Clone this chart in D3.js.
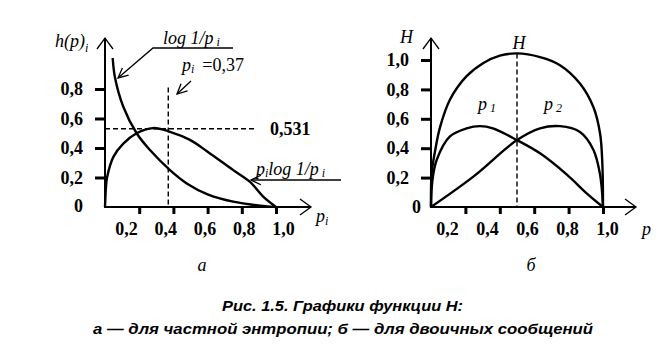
<!DOCTYPE html>
<meta charset="utf-8">
<style>
  body { margin: 0; background: #fff; }
  svg { display: block; background: #fff; }
  .curve { fill: none; stroke: #000; stroke-width: 2.4; }
  .dash { fill: none; stroke: #000; stroke-width: 1.4; stroke-dasharray: 5 3; }
  .ax { fill: none; stroke: #000; stroke-width: 2; }
  .lead { fill: none; stroke: #000; stroke-width: 1.3; }
  .tick line { stroke: #000; stroke-width: 3; }
  .tick text, .num { font-family: "Liberation Serif", "Times New Roman", "DejaVu Serif", serif; font-weight: bold; font-size: 18px; fill: #000; }
  .it { font-family: "Liberation Serif", "Times New Roman", "DejaVu Serif", serif; font-style: italic; font-size: 18px; }
  .cap { font-family: "Liberation Sans", Arial, sans-serif; font-style: italic; font-weight: bold; font-size: 14px; }
</style>
<body></body>
<script src="https://cdn.jsdelivr.net/npm/d3@7"></script>
<script>
  // ticks
  const xTicks = [0.2, 0.4, 0.6, 0.8, 1.0];
  const yTicksL = [0.2, 0.4, 0.6, 0.8];
  const yTicksR = [0.2, 0.4, 0.6, 0.8, 1.0];

  // panel a: log 1/p_i and p_i log 1/p_i
  const logInv = [[0.045, 1.01], [0.058, 0.88], [0.107, 0.68], [0.185, 0.50], [0.263, 0.386],
    [0.38, 0.25], [0.478, 0.16], [0.60, 0.086], [0.75, 0.036], [0.906, 0.009], [1.0, 0]];
  const pLog = [[0, 0], [0.006, 0.14], [0.012, 0.2], [0.049, 0.34], [0.107, 0.43], [0.185, 0.50],
    [0.28, 0.535], [0.38, 0.51], [0.497, 0.455], [0.60, 0.375], [0.75, 0.25], [0.848, 0.17],
    [0.925, 0.07], [1.0, 0]];
  const pMax = 0.37, hMax = 0.531;

  // panel б: H, p1, p2
  const H = [[0, 0], [0.004, 0.23], [0.025, 0.39], [0.053, 0.545], [0.11, 0.73], [0.207, 0.89],
    [0.305, 0.98], [0.40, 1.03], [0.5, 1.045], [0.634, 1.02], [0.75, 0.965], [0.866, 0.84],
    [0.944, 0.68], [0.983, 0.50], [0.996, 0.30], [1.0, 0]];
  const p1 = [[0, 0], [0.008, 0.18], [0.033, 0.32], [0.11, 0.48], [0.207, 0.535], [0.285, 0.55],
    [0.36, 0.535], [0.5, 0.455], [0.634, 0.365], [0.79, 0.22], [0.905, 0.093], [1.0, 0]];
  const p2 = [[0, 0], [0.25, 0.21], [0.5, 0.455], [0.634, 0.535], [0.75, 0.55], [0.866, 0.51],
    [0.944, 0.39], [0.983, 0.22], [1.0, 0]];

  const fmt = d => d3.format('.1f')(d).replace('.', ',');
  const comma = d => String(d).replace('.', ',');

  const svg = d3.select('body').append('svg').attr('width', 672).attr('height', 354);

  function chevron(x, y, dir) {
    // open arrow head, dir: 'up' | 'right'
    const s = 8, l = 11;
    const pts = dir === 'up'
      ? [[x - s, y + l], [x, y], [x + s, y + l]]
      : [[x - l, y - s], [x, y], [x - l, y + s]];
    svg.append('path').attr('class', 'lead').attr('stroke-width', 1.6).attr('d', d3.line()(pts));
  }

  function leader(pts) {
    // polyline ending with an arrow head at its last point
    svg.append('path').attr('class', 'lead').attr('d', d3.line()(pts));
    const [a, b] = pts.slice(-2);
    const ang = Math.atan2(b[1] - a[1], b[0] - a[0]);
    const head = [-0.45, 0.45].map(da => [b[0] - 11 * Math.cos(ang + da), b[1] - 11 * Math.sin(ang + da)]);
    svg.append('path').attr('class', 'lead').attr('d', d3.line()([head[0], b, head[1]]));
  }

  function panel(x, y, xLab, yTicks, xTop, yTop) {
    const [x0] = x.range(), [y0] = y.range();
    // y ticks and labels
    svg.append('g').attr('transform', `translate(${x0},0)`)
      .call(d3.axisLeft(y).tickValues(yTicks).tickSize(10).tickPadding(12).tickFormat(fmt))
      .call(g => g.attr('font-family', null).attr('font-size', null))
      .call(g => g.select('.domain').remove());
    // x ticks, labels placed by their own (wider) scale as in the print
    svg.append('g').attr('transform', `translate(0,${y0})`)
      .call(d3.axisBottom(x).tickValues(xTicks).tickSize(7).tickPadding(8).tickFormat(fmt))
      .call(g => g.attr('font-family', null).attr('font-size', null))
      .call(g => g.select('.domain').remove())
      .call(g => g.selectAll('.tick text').attr('dx', d => xLab(d) - x(d)));
    // axis lines with arrows
    svg.append('path').attr('class', 'ax').attr('d', d3.line()([[x0, yTop], [x0, y0], [xTop, y0]]));
    chevron(x0, yTop, 'up');
    chevron(xTop, y0, 'right');
  }

  const line = (x, y) => d3.line().x(d => x(d[0])).y(d => y(d[1])).curve(d3.curveCatmullRom.alpha(0.5));

  // ---- panel a
  const xL = d3.scaleLinear().domain([0, 1]).range([105, 276]);
  const yL = d3.scaleLinear().domain([0, 1]).range([207, 59.5]);
  const xLabL = d3.scaleLinear().domain([0.2, 1]).range([126, 283]);
  panel(xL, yL, xLabL, yTicksL, 311, 38);

  svg.append('path').attr('class', 'dash')
    .attr('d', d3.line()([[xL(0), yL(hMax)], [xL(0.88), yL(hMax)]]));
  svg.append('path').attr('class', 'dash')
    .attr('d', d3.line()([[xL(pMax), yL(0.81)], [xL(pMax), yL(0)]]));
  svg.append('path').attr('class', 'curve').attr('d', line(xL, yL)(logInv));
  svg.append('path').attr('class', 'curve').attr('d', line(xL, yL)(pLog));

  svg.append('text').attr('class', 'num').attr('x', 83).attr('y', 212).attr('text-anchor', 'end').text('0');
  svg.append('text').attr('class', 'num').attr('x', 270).attr('y', 135).text(comma(hMax));

  // h(p)_i
  const hl = svg.append('text').attr('class', 'it').attr('x', 55).attr('y', 47);
  hl.append('tspan').text('h');
  hl.append('tspan').text('(p)');
  hl.append('tspan').attr('font-size', 12).attr('dy', 5).text('i');

  // p_i axis label
  const pl = svg.append('text').attr('class', 'it').attr('x', 316).attr('y', 222);
  pl.append('tspan').text('p');
  pl.append('tspan').attr('font-size', 12).attr('dy', 3).text('i');

  // log 1/p_i
  const lg = svg.append('text').attr('class', 'it').attr('x', 163).attr('y', 44);
  lg.append('tspan').text('log 1/p');
  lg.append('tspan').attr('font-size', 12).attr('dy', 2).text(' i');
  leader([[233, 48], [153, 48], [118, 78]]);

  // p_i = 0,37
  const pm = svg.append('text').attr('class', 'it').attr('x', 182).attr('y', 71);
  pm.append('tspan').text('p');
  pm.append('tspan').attr('font-size', 12).attr('dy', 2).text('i');
  pm.append('tspan').attr('dy', -2).attr('font-style', 'normal').attr('dx', 8).text('=' + comma(pMax));
  leader([[191, 81], [177, 94]]);

  // p_i log 1/p_i
  const pg = svg.append('text').attr('class', 'it').attr('x', 256).attr('y', 175);
  pg.append('tspan').text('p');
  pg.append('tspan').attr('font-size', 12).attr('dy', 2).text('i');
  pg.append('tspan').attr('dy', -2).text('log 1/p');
  pg.append('tspan').attr('font-size', 12).attr('dy', 2).text(' i');
  leader([[341, 180], [251, 180]]);

  svg.append('text').attr('class', 'it').attr('x', 202).attr('y', 271).attr('text-anchor', 'middle').text('a');

  // ---- panel б
  const xR = d3.scaleLinear().domain([0, 1]).range([431, 603]);
  const yR = d3.scaleLinear().domain([0, 1]).range([207, 60]);
  const xLabR = d3.scaleLinear().domain([0.2, 1]).range([447, 607]);
  panel(xR, yR, xLabR, yTicksR, 636, 38);

  svg.append('path').attr('class', 'dash')
    .attr('d', d3.line()([[xR(0.5), yR(1.045)], [xR(0.5), yR(0)]]));
  svg.append('path').attr('class', 'curve').attr('d', line(xR, yR)(H));
  svg.append('path').attr('class', 'curve').attr('d', line(xR, yR)(p1));
  svg.append('path').attr('class', 'curve').attr('d', line(xR, yR)(p2));

  svg.append('text').attr('class', 'num').attr('x', 421).attr('y', 213).attr('text-anchor', 'end').text('0');
  svg.append('text').attr('class', 'it').attr('x', 400).attr('y', 43).text('H');
  svg.append('text').attr('class', 'it').attr('x', 519).attr('y', 49).attr('text-anchor', 'middle').text('H');
  svg.append('text').attr('class', 'it').attr('x', 642).attr('y', 235).text('p');
  [['1', 478], ['2', 544]].forEach(([k, x]) => {
    const t = svg.append('text').attr('class', 'it').attr('x', x).attr('y', 110);
    t.append('tspan').text('p');
    t.append('tspan').attr('font-size', 12).attr('dy', 2).text(' ' + k);
  });
  svg.append('text').attr('class', 'it').attr('x', 531).attr('y', 271).attr('text-anchor', 'middle').text('б');

  // caption
  svg.append('text').attr('class', 'cap').attr('x', 222).attr('y', 311)
    .attr('textLength', 241).attr('lengthAdjust', 'spacingAndGlyphs')
    .text('Рис. 1.5. Графики функции Н:');
  svg.append('text').attr('class', 'cap').attr('x', 93).attr('y', 334)
    .attr('textLength', 500).attr('lengthAdjust', 'spacingAndGlyphs')
    .text('а — для частной энтропии; б — для двоичных сообщений');
</script>
